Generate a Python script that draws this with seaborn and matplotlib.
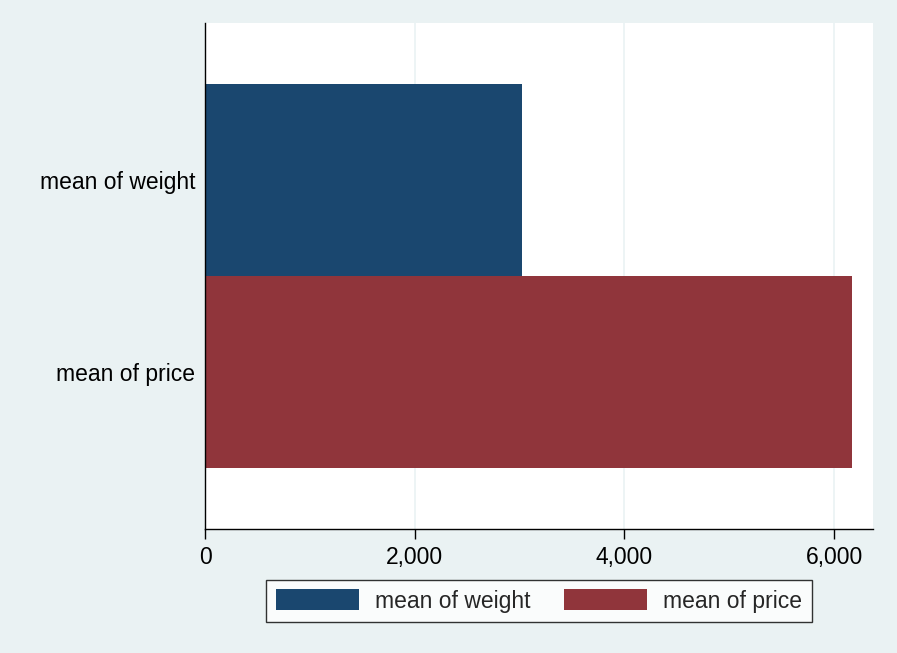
import numpy as np
import pandas as pd
import matplotlib
matplotlib.use("Agg")
import matplotlib.pyplot as plt
import seaborn as sns

labels = ["mean of weight", "mean of price"]
values = [3019.46, 6165.26]
colors = ["#1a476f", "#90353b"]

bg = "#eaf2f3"

sns.set_theme(style="white")
plt.rcParams["font.family"] = ["Liberation Sans", "DejaVu Sans"]

df = pd.DataFrame({"label": labels, "value": values})

fig = plt.figure(figsize=(8.97, 6.53), dpi=100, facecolor=bg)
ax = fig.add_axes([205 / 897, 1 - 529 / 653, (873 - 205) / 897, (529 - 23) / 653])
ax.set_facecolor("white")

sns.barplot(data=df, y="label", x="value", hue="label", palette=colors,
            orient="h", width=1.0, dodge=False, legend=False, ax=ax,
            saturation=1, linewidth=0)

ax.set_xlim(0, 6370)
ax.set_ylim(1.82, -0.82)
ax.set_xticks([0, 2000, 4000, 6000])
ax.set_xticklabels(["0", "2,000", "4,000", "6,000"])
ax.xaxis.grid(True, color=bg, linewidth=1.2)
ax.set_axisbelow(True)
ax.set_xlabel("")
ax.set_ylabel("")

for side in ["top", "right"]:
    ax.spines[side].set_visible(False)
for side in ["left", "bottom"]:
    ax.spines[side].set_color("black")
    ax.spines[side].set_linewidth(1.0)

ax.tick_params(axis="x", which="major", bottom=True, length=7, width=1,
               color="black", labelsize=16.5, pad=5.5, labelcolor="black")
ax.tick_params(axis="y", left=False, length=0, labelsize=16.5, pad=7, labelcolor="black")

handles = [plt.Rectangle((0, 0), 1, 1, facecolor=c, edgecolor="none") for c in colors]
leg = fig.legend(handles, labels, loc="center", bbox_to_anchor=(539 / 897, 1 - 601 / 653),
                 ncol=2, frameon=True, fancybox=False, fontsize=16.5,
                 handlelength=3.6, handleheight=1.0, columnspacing=1.5,
                 handletextpad=0.7, borderpad=0.42)
leg.get_frame().set_edgecolor("black")
leg.get_frame().set_linewidth(1.0)
leg.get_frame().set_facecolor("white")

fig.savefig("out.png", dpi=100, facecolor=bg)
